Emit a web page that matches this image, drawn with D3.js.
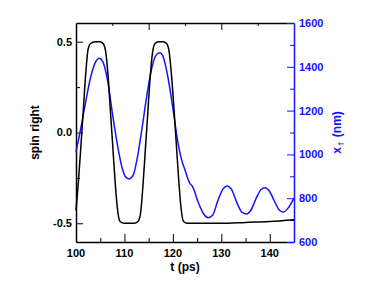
<!DOCTYPE html>
<html>
<head>
<meta charset="utf-8">
<script src="https://cdn.jsdelivr.net/npm/d3@7"></script>
<style>
  body { margin: 0; background: #fff; }
  text { font-family: "Liberation Sans", Arial, sans-serif; font-weight: bold; }
</style>
</head>
<body>
<script>
// spin right (black) and x-up position (blue) against time

const spinT = [100, 100.5, 101, 101.5, 102, 102.5, 103, 104, 105, 105.6, 106.1, 106.6, 107.1, 107.6, 108.1, 108.6, 109.1, 110, 111, 112, 112.8,
  113.3, 113.8, 114.3, 114.8, 115.3, 115.8, 116.3, 117, 118, 118.7, 119.2, 119.7, 120.2, 120.7, 121.2, 121.7, 122.2, 123, 130, 135, 140, 145];
const spinV = [-0.43, -0.27, -0.08, 0.12, 0.32, 0.46, 0.49, 0.5, 0.5, 0.49, 0.45, 0.32, 0.12, -0.08, -0.28, -0.43, -0.49, -0.5, -0.5, -0.5, -0.49,
  -0.45, -0.3, -0.1, 0.1, 0.3, 0.44, 0.49, 0.5, 0.5, 0.49, 0.45, 0.32, 0.14, -0.06, -0.26, -0.42, -0.49, -0.5, -0.5, -0.495, -0.49, -0.48];

const xT = [100, 101, 102, 103, 104, 104.8, 105.5, 106.5, 107.5, 108.5, 109.5, 110.3, 111, 111.8, 112.7, 113.7, 114.7, 115.7, 116.5, 117.3,
  118, 119, 120, 121, 122, 122.5, 123, 123.5, 124, 124.5, 125, 125.6, 126.3, 127.3, 128.2, 129.3, 130.3, 131.2, 132.1, 133.2, 134.3, 135.2,
  136.1, 137.2, 138.2, 139, 139.9, 141, 142, 142.8, 143.8, 145];
const xV = [1012, 1120, 1240, 1350, 1420, 1439, 1425, 1340, 1190, 1050, 940, 895, 888, 905, 990, 1130, 1280, 1400, 1452, 1464,
  1445, 1350, 1210, 1060, 960, 929, 895, 868, 855, 830, 795, 761, 730, 711, 722, 790, 840, 856, 840, 780, 735, 728,
  745, 800, 840, 848, 833, 785, 745, 737, 755, 800];

const bottomTicks = [100, 110, 120, 130, 140];
const bottomMinor = [105, 115, 125, 135, 145];
const topTicks = [115, 130];
const topMinor = [107.5, 122.5, 137.5];
const leftTicks = [-0.5, 0, 0.5];
const leftMinor = [-0.25, 0.25];
const rightTicks = [600, 800, 1000, 1200, 1400, 1600];
const rightMinor = [700, 900, 1100, 1300, 1500];

const W = 374, H = 294;
const margin = {top: 23, right: 80, bottom: 52, left: 76};
const blue = "#1414ff";

const svg = d3.select("body").append("svg")
  .attr("width", W)
  .attr("height", H);

const x = d3.scaleLinear().domain([100, 145]).range([margin.left, W - margin.right]);
const yL = d3.scaleLinear().domain([-0.603, 0.603]).range([H - margin.bottom, margin.top]);
const yR = d3.scaleLinear().domain([600, 1600]).range([H - margin.bottom, margin.top]);

const fmtL = d => d3.format(".1f")(d).replace("\u2212", "-");

// minor ticks first
svg.append("g").attr("transform", `translate(0,${H - margin.bottom})`)
  .call(d3.axisTop(x).tickValues(bottomMinor).tickSize(4).tickFormat(""))
  .call(g => g.select(".domain").remove());
svg.append("g").attr("transform", `translate(0,${margin.top})`)
  .call(d3.axisBottom(x).tickValues(topMinor).tickSize(3).tickFormat(""))
  .call(g => g.select(".domain").remove());
svg.append("g").attr("transform", `translate(${margin.left},0)`)
  .call(d3.axisRight(yL).tickValues(leftMinor).tickSize(4).tickFormat(""))
  .call(g => g.select(".domain").remove());
svg.append("g").attr("transform", `translate(${W - margin.right},0)`)
  .call(d3.axisLeft(yR).tickValues(rightMinor).tickSize(4).tickFormat(""))
  .call(g => g.select(".domain").remove())
  .call(g => g.selectAll("line").attr("stroke", blue));

// bottom axis
svg.append("g").attr("transform", `translate(0,${H - margin.bottom})`)
  .call(d3.axisTop(x).tickValues(bottomTicks).tickSize(8).tickSizeOuter(0).tickFormat(""))
  .call(g => g.select(".domain").attr("stroke-width", 1.5));
svg.append("g")
  .selectAll("text")
  .data(bottomTicks)
  .join("text")
    .attr("x", d => x(d))
    .attr("y", H - margin.bottom + 15)
    .attr("text-anchor", "middle")
    .attr("font-size", 11)
    .text(d => d);

// top axis
svg.append("g").attr("transform", `translate(0,${margin.top})`)
  .call(d3.axisBottom(x).tickValues(topTicks).tickSize(7).tickSizeOuter(0).tickFormat(""))
  .call(g => g.select(".domain").attr("stroke-width", 1.5));

// left axis
svg.append("g").attr("transform", `translate(${margin.left},0)`)
  .call(d3.axisRight(yL).tickValues(leftTicks).tickSize(7).tickSizeOuter(0).tickFormat(""))
  .call(g => g.select(".domain").attr("stroke-width", 1.5));
svg.append("g")
  .selectAll("text")
  .data(leftTicks)
  .join("text")
    .attr("x", margin.left - 4)
    .attr("y", d => yL(d))
    .attr("dy", "0.36em")
    .attr("text-anchor", "end")
    .attr("font-size", 11)
    .text(fmtL);

// right axis (blue)
svg.append("g").attr("transform", `translate(${W - margin.right},0)`)
  .call(d3.axisLeft(yR).tickValues(rightTicks).tickSize(7).tickSizeOuter(0).tickFormat(""))
  .call(g => g.select(".domain").attr("stroke", blue).attr("stroke-width", 1.5))
  .call(g => g.selectAll("line").attr("stroke", blue));
svg.append("g")
  .selectAll("text")
  .data(rightTicks)
  .join("text")
    .attr("x", W - margin.right + 5)
    .attr("y", d => yR(d))
    .attr("dy", "0.36em")
    .attr("fill", blue)
    .attr("font-size", 11)
    .text(d => d);

// curves
const lineSpin = d3.line()
  .x((d, i) => x(spinT[i]))
  .y(d => yL(d))
  .curve(d3.curveMonotoneX);
const lineX = d3.line()
  .x((d, i) => x(xT[i]))
  .y(d => yR(d))
  .curve(d3.curveMonotoneX);

svg.append("path")
  .datum(xV)
  .attr("fill", "none")
  .attr("stroke", blue)
  .attr("stroke-width", 1.5)
  .attr("d", lineX);

svg.append("path")
  .datum(spinV)
  .attr("fill", "none")
  .attr("stroke", "#000")
  .attr("stroke-width", 1.5)
  .attr("d", lineSpin);

// titles
svg.append("text")
  .attr("x", x(122.5))
  .attr("y", 271)
  .attr("text-anchor", "middle")
  .attr("font-size", 12)
  .text("t (ps)");

svg.append("text")
  .attr("transform", `translate(39,${yL(0)}) rotate(-90)`)
  .attr("text-anchor", "middle")
  .attr("font-size", 12)
  .text("spin right");

const rt = svg.append("text")
  .attr("transform", `translate(341,${yR(1100)}) rotate(-90)`)
  .attr("text-anchor", "middle")
  .attr("fill", blue)
  .attr("font-size", 12);
rt.append("tspan").text("x");
rt.append("tspan")
  .attr("font-family", "DejaVu Sans")
  .attr("font-weight", "normal")
  .attr("font-size", 8)
  .attr("dy", 3)
  .text("\u2191");
rt.append("tspan").attr("dy", -3).text(" (nm)");
</script>
</body>
</html>
